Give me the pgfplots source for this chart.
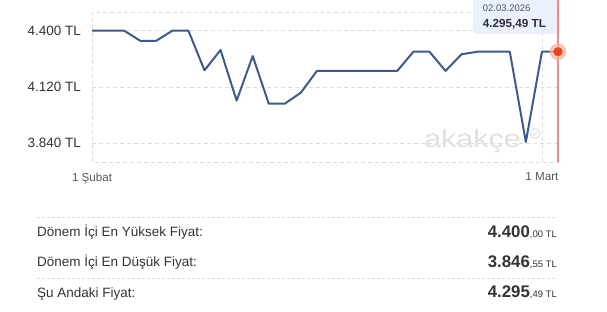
\documentclass[border=0pt]{standalone}
\usepackage{fontspec}
\setmainfont{Liberation Sans}
\usepackage{pgfplots}
\pgfplotsset{compat=1.18}
\definecolor{linecol}{HTML}{3D5A8E}
\definecolor{gridcol}{HTML}{DDDDDD}
\definecolor{tickcol}{HTML}{333333}
\definecolor{xtickcol}{HTML}{555555}
\definecolor{redline}{HTML}{E88A8A}
\definecolor{dotcol}{HTML}{E8431A}
\definecolor{halocol}{HTML}{F4B0A8}
\definecolor{tipfill}{HTML}{E8F0FC}
\definecolor{tipgray}{HTML}{555555}
\definecolor{tipdark}{HTML}{2D2D3A}
\definecolor{wmcol}{HTML}{E0E0E0}
\pgfplotstableread{
x y
0 4400
1 4400
2 4400
3 4350
4 4350
5 4400
6 4400
7 4203
8 4304
9 4052
10 4274
11 4037
12 4037
13 4092
14 4200
15 4200
16 4200
17 4200
18 4200
19 4200
20 4295.49
21 4295.49
22 4200
23 4283
24 4295.49
25 4295.49
26 4295.49
27 3846.55
28 4295.49
29 4295.49
}\pricedata
\begin{document}
\begin{tikzpicture}[x=1pt,y=1pt]
\path[use as bounding box] (0,0) rectangle (607,312);
\begin{axis}[
  at={(92pt,150pt)}, anchor=south west,
  scale only axis, width=466pt, height=150pt,
  xmin=0, xmax=29, ymin=3747, ymax=4493,
  xtick={0,28}, xticklabels={1 Şubat,1 Mart},
  ytick={3840,4120,4400}, yticklabels={3.840 TL,4.120 TL,4.400 TL},
  major tick length=0pt,
  grid=major,
  grid style={gridcol, dash pattern=on 4pt off 3pt, line width=0.8pt},
  axis line style={gridcol, dash pattern=on 4pt off 3pt, line width=0.8pt},
  yticklabel style={font=\fontsize{13.5}{15}\selectfont, text=tickcol, inner sep=0pt, anchor=east},
  yticklabel shift=11pt,
  xticklabel style={font=\fontsize{11.6}{13}\selectfont, text=xtickcol, inner sep=0pt, anchor=north},
  xticklabel shift=10.5pt,
  clip=false,
]
\addplot[linecol, line width=2pt, line join=round] table[x=x,y=y] {\pricedata};
\end{axis}
% watermark
\node[anchor=base west, inner sep=0pt, text=wmcol, font=\fontsize{25}{28}\selectfont, xscale=1.22] at (424,164) {akakçe};
\draw[wmcol, line width=1pt] (535,178.5) circle (5);
\draw[wmcol, line width=1pt] (532.5,179) -- (534.5,177) -- (538,180.5);
% tooltip
\fill[tipfill, opacity=0.92, rounded corners=3pt] (473,278) rectangle (560,314);
\node[anchor=base west, inner sep=0pt, text=tipgray, font=\fontsize{9.5}{11}\selectfont] at (482.7,300.8) {02.03.2026};
\node[anchor=base west, inner sep=0pt, text=tipdark, font=\bfseries\fontsize{11.7}{13}\selectfont] at (482.7,284.8) {4.295,49 TL};
% red cursor line
\draw[redline, line width=1.5pt] (558,150) -- (558,312);
\begin{axis}[
  at={(92pt,150pt)}, anchor=south west,
  scale only axis, width=466pt, height=150pt,
  xmin=0, xmax=29, ymin=3747, ymax=4493,
  axis lines=none, clip=false,
]
\addplot[halocol, draw=none, fill=halocol, fill opacity=0.75, only marks, mark=*, mark size=8pt, mark options={draw=none, fill=halocol}] coordinates {(29,4295.49)};
\addplot[dotcol, draw=none, fill=dotcol, only marks, mark=*, mark size=4.3pt, mark options={draw=none, fill=dotcol}] coordinates {(29,4295.49)};
\end{axis}
% bottom summary
\draw[gridcol, line width=0.8pt, dash pattern=on 3pt off 2pt] (37,95) -- (557,95);
\draw[gridcol, line width=0.8pt, dash pattern=on 3pt off 2pt] (37,34) -- (557,34);
\node[anchor=base west, inner sep=0pt, text=tickcol, font=\fontsize{13.5}{15}\selectfont] at (37,75.5) {Dönem İçi En Yüksek Fiyat:};
\node[anchor=base west, inner sep=0pt, text=tickcol, font=\fontsize{13.5}{15}\selectfont] at (37,45) {Dönem İçi En Düşük Fiyat:};
\node[anchor=base west, inner sep=0pt, text=tickcol, font=\fontsize{13.5}{15}\selectfont] at (37,14.5) {Şu Andaki Fiyat:};
\node[anchor=base east, inner sep=0pt, text=tickcol] at (557,74.5) {{\bfseries\fontsize{16.8}{18}\selectfont 4.400}{\fontsize{9.5}{11}\selectfont ,00 TL}};
\node[anchor=base east, inner sep=0pt, text=tickcol] at (557,44) {{\bfseries\fontsize{16.8}{18}\selectfont 3.846}{\fontsize{9.5}{11}\selectfont ,55 TL}};
\node[anchor=base east, inner sep=0pt, text=tickcol] at (557,14) {{\bfseries\fontsize{16.8}{18}\selectfont 4.295}{\fontsize{9.5}{11}\selectfont ,49 TL}};
\end{tikzpicture}
\end{document}
